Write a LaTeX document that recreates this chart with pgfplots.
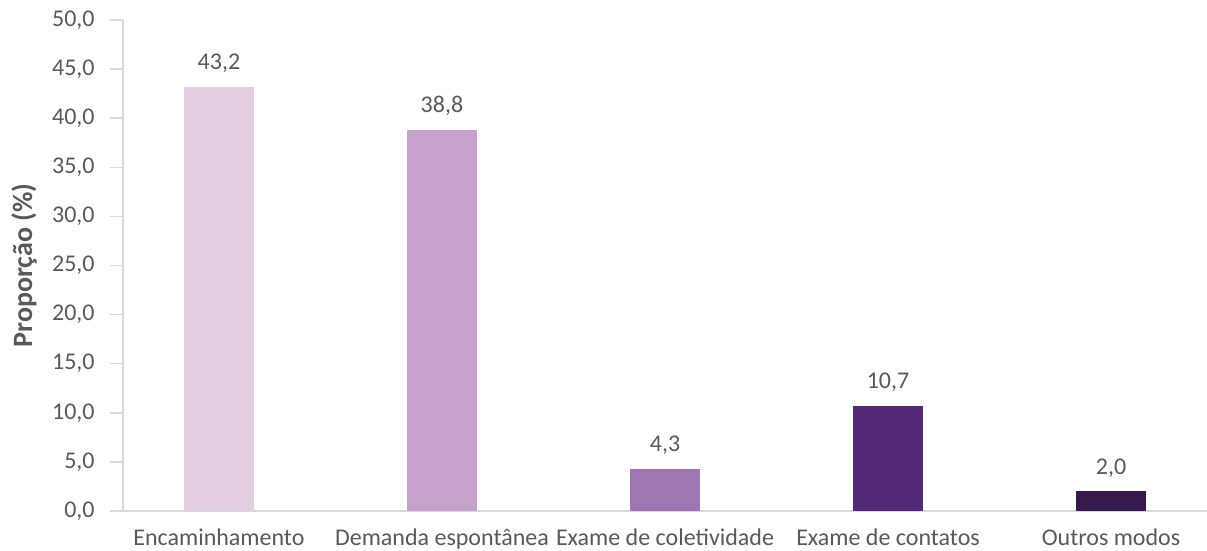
\documentclass[border=0pt]{standalone}
\usepackage{fontspec}
\setmainfont{Carlito}
\usepackage{pgfplots}
\pgfplotsset{compat=1.18}
\definecolor{axisgray}{HTML}{D9D9D9}
\definecolor{txt}{HTML}{595959}
\definecolor{c1}{HTML}{E2CFE4}
\definecolor{c2}{HTML}{C4A2CC}
\definecolor{c3}{HTML}{9E76B2}
\definecolor{c4}{HTML}{532A76}
\definecolor{c5}{HTML}{361A4E}
\pgfplotsset{/pgf/number format/.cd, fixed, fixed zerofill, precision=1, use comma, assume math mode=true}
\begin{document}
\fontsize{12pt}{14pt}\selectfont
\begin{tikzpicture}
\begin{axis}[
  scale only axis, width=542pt, height=245.5pt,
  at={(0,0)}, anchor=south west,
  ymin=0, ymax=50, xmin=-0.43, xmax=4.43,
  ybar, bar width=35pt, bar shift=0pt,
  axis lines*=left,
  axis line style={axisgray, line width=0.75pt},
  xtick={0,1,2,3,4},
  xticklabels={Encaminhamento, Demanda espontânea, Exame de coletividade, Exame de contatos, Outros modos},
  x tick style={draw=none},
  ytick={0,5,...,50},
  y tick style={axisgray, line width=0.75pt},
  tick align=outside, major tick length=6.5pt,
  tick label style={font=\fontsize{12pt}{14pt}\selectfont, text=txt},
  yticklabel style={anchor=east, inner sep=0pt, xshift=-7.5pt},
  xticklabel style={anchor=base, yshift=-10.8pt},
  ylabel={\textbf{Proporção (\%)}},
  ylabel style={at={(axis description cs:-0.0913,0.5)}, anchor=center, text=txt, font=\fontsize{14pt}{16pt}\selectfont},
  nodes near coords,
  every node near coord/.append style={anchor=base, yshift=8.5pt, text=txt, font=\fontsize{12pt}{14pt}\selectfont},
]
\addplot[fill=c1, draw=none] coordinates {(0,43.2)};
\addplot[fill=c2, draw=none] coordinates {(1,38.8)};
\addplot[fill=c3, draw=none] coordinates {(2,4.3)};
\addplot[fill=c4, draw=none] coordinates {(3,10.7)};
\addplot[fill=c5, draw=none] coordinates {(4,2.0)};
\draw[axisgray, line width=0.75pt] (rel axis cs:0,0) -- ++(0,-6pt);
\end{axis}
\pgfresetboundingbox
\path[use as bounding box] (-61.5pt,-20pt) rectangle (542pt,255.5pt);
\end{tikzpicture}
\end{document}
